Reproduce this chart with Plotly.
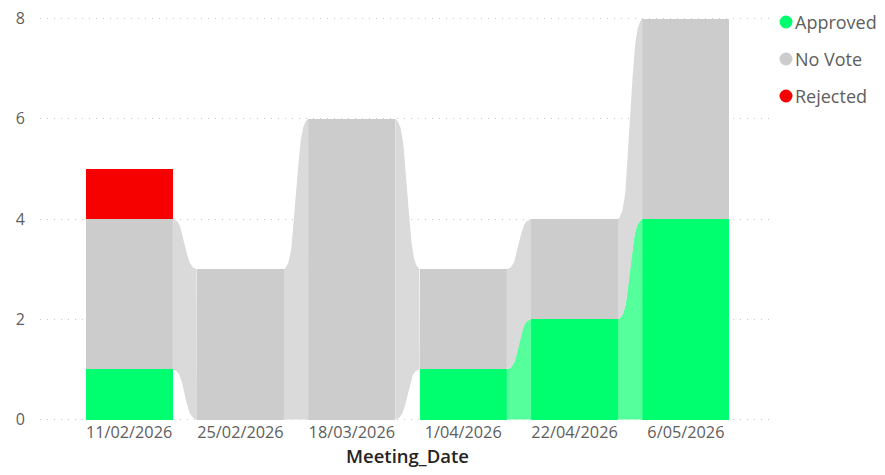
import numpy as np
import plotly.graph_objects as go

# ---- data ----
meeting_dates = ["11/02/2026", "25/02/2026", "18/03/2026", "1/04/2026", "22/04/2026", "6/05/2026"]
series_names = ["Approved", "No Vote", "Rejected"]
approved = [1, 0, 0, 1, 2, 4]
no_vote = [3, 3, 6, 2, 2, 4]
rejected = [1, 0, 0, 0, 0, 0]
y_ticks = [0, 2, 4, 6, 8]

# ---- styles ----
bar_colors = {"Approved": "#00FF6E", "No Vote": "#CCCCCC", "Rejected": "#F70000"}
ribbon_colors = {"Approved": "#55FF9C", "No Vote": "#DADADA", "Rejected": "#FF6666"}
BAR_W = 0.78
FONT = "Segoe UI, Open Sans, sans-serif"
OFF = 8  # page body margin
W, H = 885, 475
ML, MT = 40 - OFF, 17 - OFF
PW, PH = 735, 404
MR = W - ML - PW
MB = H - MT - PH
PAD = 0.03

values = {"Approved": approved, "No Vote": no_vote, "Rejected": rejected}
x = np.arange(len(meeting_dates))

# stacked bottoms
bottoms = {}
running = np.zeros(len(meeting_dates))
for name in series_names:
    bottoms[name] = running.copy()
    running = running + np.array(values[name], dtype=float)

fig = go.Figure()

# ribbons between consecutive columns (sigmoid transition)
t = np.linspace(0, 1, 60)
k = 9.0
raw = 1 / (1 + np.exp(-k * (t - 0.5)))
s = (raw - raw[0]) / (raw[-1] - raw[0])
for name in series_names:
    v = np.array(values[name], dtype=float)
    b = bottoms[name]
    for i in range(len(x) - 1):
        if v[i] > 0 and v[i + 1] > 0:
            x0 = x[i] + BAR_W / 2
            x1 = x[i + 1] - BAR_W / 2
            xs = x0 + (x1 - x0) * t
            lo = b[i] + (b[i + 1] - b[i]) * s
            hi = (b[i] + v[i]) + ((b[i + 1] + v[i + 1]) - (b[i] + v[i])) * s
            fig.add_trace(go.Scatter(
                x=np.concatenate([xs, xs[::-1]]),
                y=np.concatenate([lo, hi[::-1]]),
                mode="lines", fill="toself", fillcolor=ribbon_colors[name],
                line=dict(width=0, color=ribbon_colors[name]),
                hoverinfo="skip", showlegend=False,
            ))

# bars
for name in series_names:
    fig.add_trace(go.Bar(
        x=x, y=values[name], base=bottoms[name], width=BAR_W,
        marker=dict(color=bar_colors[name], line=dict(width=0)),
        name=name, showlegend=False,
    ))

# manual legend (positions given in page pixels)
leg_x_px = 786 - OFF
for j, name in enumerate(series_names):
    yc = 22 + 37 * j - OFF
    fig.add_shape(type="circle", xref="paper", yref="paper",
                  x0=(leg_x_px - 6.5 - ML) / PW, x1=(leg_x_px + 6.5 - ML) / PW,
                  y0=(H - MB - yc - 6.5) / PH, y1=(H - MB - yc + 6.5) / PH,
                  fillcolor=bar_colors[name], line=dict(width=0))
    fig.add_annotation(xref="paper", yref="paper",
                       x=(793 - OFF - ML) / PW, y=(H - MB - yc) / PH,
                       xanchor="left", yanchor="middle", showarrow=False,
                       text=name, font=dict(family=FONT, size=18, color="#605E5C"))

fig.update_layout(
    width=W, height=H,
    margin=dict(l=ML, r=MR, t=MT, b=MB, autoexpand=False),
    paper_bgcolor="white", plot_bgcolor="white",
    barmode="overlay", bargap=0,
    showlegend=False,
    font=dict(family=FONT),
)
fig.update_xaxes(
    range=[-0.8, 5.8], tickmode="array", tickvals=list(x), ticktext=meeting_dates,
    showgrid=False, zeroline=False, showline=False, ticks="", automargin=False,
    tickfont=dict(family=FONT, size=16.3, color="#605E5C"),
    title=dict(text="Meeting_Date", font=dict(family=FONT, size=18.5, color="#252423", weight=600), standoff=4),
)
fig.update_yaxes(
    range=[-PAD, 8 + PAD], tickmode="array", tickvals=y_ticks,
    showgrid=True, gridcolor="#C8C8C8", griddash="1px,6px", gridwidth=1.2,
    zeroline=False, showline=False, ticks="", ticklabelstandoff=14, automargin=False,
    ticklabeloverflow="allow",
    tickfont=dict(family=FONT, size=16, color="#605E5C"),
)

fig.write_html("out.html")
